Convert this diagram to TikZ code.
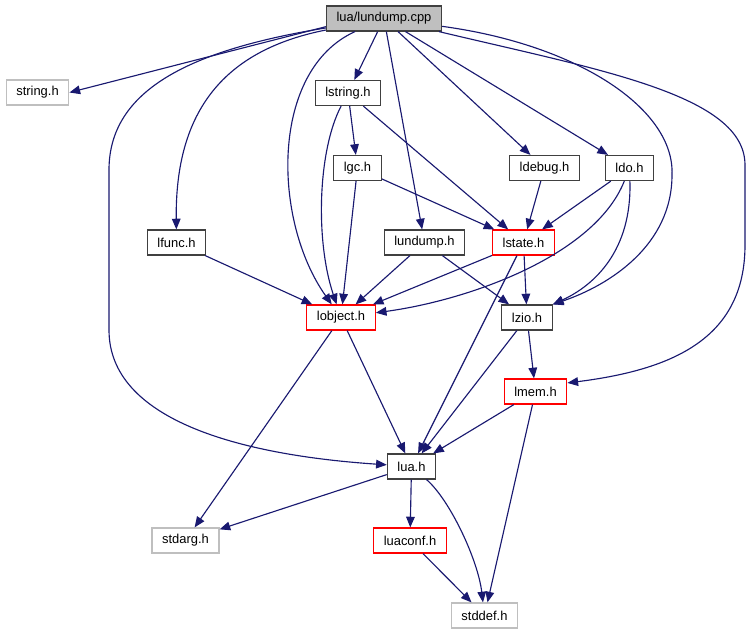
\documentclass[tikz,border=0pt]{standalone}
\usepackage{fontspec}
\setmainfont{Liberation Sans}
\usetikzlibrary{arrows.meta}
\definecolor{edgeblue}{HTML}{191970}
\definecolor{boxgrey}{HTML}{404040}
\definecolor{extgrey}{HTML}{BFBFBF}

\begin{document}
\begin{tikzpicture}[x=0.75pt, y=-0.75pt,
    box/.style={draw=boxgrey, line width=0.9pt, fill=white, minimum height=18.75pt,
                inner xsep=7.6pt, inner ysep=0pt, font=\fontsize{9.7}{11}\selectfont},
    redbox/.style={box, draw=red},
    extbox/.style={box, draw=extgrey},
    arr/.style={-{Triangle[length=8pt,width=6.5pt]}, edgeblue, line width=0.85pt}
]
\useasboundingbox (0,0) rectangle (751,635);

\node[box, fill=extgrey] (cpp) at (384,18.5) {lua/lundump.cpp};
\node[extbox] (stringh) at (37.5,92.5) {string.h};
\node[box] (lstring) at (348,93) {lstring.h};
\node[box] (lgc) at (357.5,168) {lgc.h};
\node[box] (ldebug) at (544.5,168) {ldebug.h};
\node[box] (ldo) at (629.5,168) {ldo.h};
\node[box] (lfunc) at (176.5,242.5) {lfunc.h};
\node[box] (lundump) at (424.5,242.5) {lundump.h};
\node[redbox] (lstate) at (523.5,242.5) {lstate.h};
\node[redbox] (lobject) at (341,317.5) {lobject.h};
\node[box] (lzio) at (527,317.5) {lzio.h};
\node[redbox] (lmem) at (535.5,391.5) {lmem.h};
\node[box] (lua) at (411.5,466.5) {lua.h};
\node[extbox] (stdarg) at (185.5,540.5) {stdarg.h};
\node[redbox] (luaconf) at (410,540.5) {luaconf.h};
\node[extbox] (stddef) at (484.5,615.5) {stddef.h};

% lua/lundump.cpp
\draw[arr] (cpp.188) -- (stringh.east);
\draw[arr] (cpp) .. controls (190,50) and (109,90) .. (109,170) -- (109,330)
    .. controls (109,420) and (240,455) .. (lua);
\draw[arr] (cpp) .. controls (225,50) and (175,110) .. (lfunc);
\draw[arr] (cpp) .. controls (270,70) and (272,220) .. (lobject);
\draw[arr] (cpp) -- (lstring);
\draw[arr] (cpp) -- (lundump);
\draw[arr] (cpp) -- (ldebug);
\draw[arr] (cpp) -- (ldo);
\draw[arr] (cpp) .. controls (580,45) and (675,110) .. (672,175)
    .. controls (672,245) and (610,285) .. (lzio.north east);
\draw[arr] (cpp) .. controls (600,70) and (745,95) .. (745,165) -- (745,245)
    .. controls (745,340) and (670,370) .. (lmem.15);

% second row
\draw[arr] (lstring) -- (lgc);
\draw[arr] (lstring) .. controls (318,150) and (315,240) .. (lobject);
\draw[arr] (lstring) -- (lstate);
\draw[arr] (lgc) -- (lobject);
\draw[arr] (lgc) -- (lstate);
\draw[arr] (ldebug) -- (lstate);
\draw[arr] (ldo) -- (lstate);
\draw[arr] (ldo) .. controls (595,255) and (470,300) .. (lobject);
\draw[arr] (ldo) .. controls (632,250) and (595,285) .. (lzio.north east);

% third row
\draw[arr] (lfunc) -- (lobject);
\draw[arr] (lundump) -- (lobject);
\draw[arr] (lundump) -- (lzio);
\draw[arr] (lstate) -- (lobject);
\draw[arr] (lstate) -- (lzio);
\draw[arr] (lstate) -- (lua);

% lower part
\draw[arr] (lobject) -- (stdarg);
\draw[arr] (lobject) -- (lua);
\draw[arr] (lzio) -- (lmem);
\draw[arr] (lzio) -- (lua);
\draw[arr] (lmem) -- (lua);
\draw[arr] (lmem) -- (stddef);
\draw[arr] (lua) -- (stdarg);
\draw[arr] (lua) -- (luaconf);
\draw[arr] (lua) .. controls (450,500) and (478,560) .. (stddef);
\draw[arr] (luaconf) -- (stddef);
\end{tikzpicture}
\end{document}
